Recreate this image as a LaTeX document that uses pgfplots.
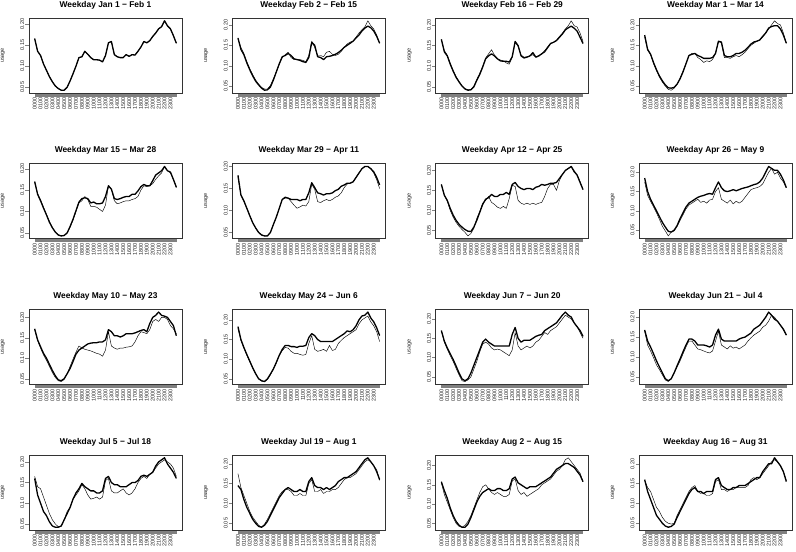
\documentclass[border=0pt]{standalone}
\usepackage{fontspec}
\setmainfont{Liberation Sans}
\usepackage{pgfplots}
\pgfplotsset{compat=1.18}

\newcommand\fs{\fontsize{5.5}{6}\selectfont}
\pgfplotsset{every axis title/.style={at={(0.5,1)}, anchor=center, yshift=13pt, font=\bfseries\fontsize{8.4}{9.6}\selectfont}}
\pgfplotsset{panel/.style={
  scale only axis, width=153pt, height=75pt, anchor=north west,
  enlarge x limits=0.04, enlarge y limits=0.04,
  axis line style={black!80, line width=0.5pt},
  tick align=outside, xtick pos=lower, ytick pos=left,
  xtick={0,60,...,1380},
  xticklabels={0000,0100,0200,0300,0400,0500,0600,0700,0800,0900,1000,1100,1200,1300,1400,1500,1600,1700,1800,1900,2000,2100,2200,2300},
  minor xtick={0,5,...,1435},
  major tick length=3.5pt, minor tick length=3.5pt,
  tick style={black!50, line width=0.22pt},
  x tick label style={rotate=90, anchor=east, font=\fs, inner sep=1pt, text=black!85},
  ytick={0.05,0.10,0.15,0.20}, scaled y ticks=false,
  yticklabel style={rotate=90, anchor=south, font=\fs, inner sep=1pt, text=black!85,
    /pgf/number format/fixed, /pgf/number format/fixed zerofill, /pgf/number format/precision=2},
  /pgf/number format/assume math mode=true,
  ylabel={usage}, ylabel style={at={(axis description cs:-0.17,0.5)}, anchor=center, font=\fs, text=black!85},
}}

\newcommand\panel[5]{%
\begin{axis}[panel, at={(#1pt,#2pt)}, title={#3}]
\addplot[black, line width=0.45pt, line join=round] table[row sep=\\, header=false, x expr=\coordindex*30, y index=0] {#4};
\addplot[black, line width=1.3pt, line join=round] table[row sep=\\, header=false, x expr=\coordindex*30, y index=0] {#5};
\end{axis}}

\begin{document}
\begin{tikzpicture}
\useasboundingbox (0,0) rectangle (796pt,-552pt);

% Row 1
\panel{29}{-18}{Weekday Jan 1 − Feb 1}
{0.165\\0.135\\0.125\\0.105\\0.090\\0.075\\0.063\\0.053\\0.047\\0.043\\0.043\\0.050\\0.065\\0.082\\0.100\\0.120\\0.122\\0.135\\0.128\\0.120\\0.115\\0.115\\0.114\\0.110\\0.125\\0.155\\0.158\\0.127\\0.122\\0.120\\0.120\\0.127\\0.123\\0.127\\0.126\\0.135\\0.145\\0.158\\0.155\\0.160\\0.170\\0.178\\0.188\\0.193\\0.207\\0.195\\0.188\\0.172\\0.154\\}
{0.165\\0.135\\0.125\\0.105\\0.090\\0.075\\0.063\\0.053\\0.047\\0.043\\0.043\\0.050\\0.065\\0.082\\0.100\\0.120\\0.122\\0.135\\0.128\\0.120\\0.115\\0.115\\0.114\\0.110\\0.125\\0.155\\0.158\\0.127\\0.122\\0.120\\0.120\\0.127\\0.123\\0.127\\0.126\\0.135\\0.145\\0.158\\0.155\\0.160\\0.170\\0.178\\0.188\\0.193\\0.207\\0.195\\0.188\\0.172\\0.154\\}

\panel{232.3}{-18}{Weekday Feb 2 − Feb 15}
{0.165\\0.145\\0.130\\0.110\\0.093\\0.078\\0.065\\0.055\\0.047\\0.043\\0.043\\0.052\\0.068\\0.085\\0.103\\0.120\\0.127\\0.133\\0.120\\0.115\\0.115\\0.115\\0.113\\0.110\\0.125\\0.160\\0.145\\0.125\\0.125\\0.122\\0.133\\0.135\\0.128\\0.125\\0.128\\0.135\\0.145\\0.153\\0.158\\0.160\\0.170\\0.180\\0.188\\0.195\\0.210\\0.198\\0.190\\0.175\\0.155\\}
{0.168\\0.140\\0.127\\0.107\\0.090\\0.075\\0.062\\0.053\\0.045\\0.040\\0.041\\0.048\\0.065\\0.085\\0.105\\0.122\\0.125\\0.130\\0.125\\0.117\\0.115\\0.113\\0.110\\0.108\\0.120\\0.157\\0.150\\0.122\\0.120\\0.115\\0.122\\0.123\\0.125\\0.128\\0.132\\0.138\\0.145\\0.150\\0.155\\0.160\\0.168\\0.175\\0.185\\0.192\\0.197\\0.193\\0.185\\0.172\\0.155\\}

\panel{435.7}{-18}{Weekday Feb 16 − Feb 29}
{0.165\\0.138\\0.127\\0.108\\0.090\\0.075\\0.063\\0.053\\0.046\\0.043\\0.044\\0.052\\0.068\\0.083\\0.100\\0.120\\0.130\\0.140\\0.127\\0.118\\0.115\\0.113\\0.108\\0.105\\0.122\\0.158\\0.148\\0.127\\0.122\\0.123\\0.125\\0.128\\0.122\\0.126\\0.130\\0.138\\0.147\\0.155\\0.158\\0.163\\0.172\\0.180\\0.190\\0.198\\0.210\\0.198\\0.195\\0.180\\0.160\\}
{0.165\\0.135\\0.125\\0.105\\0.088\\0.073\\0.062\\0.052\\0.045\\0.042\\0.043\\0.050\\0.066\\0.080\\0.098\\0.118\\0.125\\0.130\\0.125\\0.118\\0.113\\0.112\\0.112\\0.110\\0.123\\0.160\\0.150\\0.125\\0.120\\0.122\\0.125\\0.133\\0.122\\0.125\\0.130\\0.135\\0.145\\0.155\\0.158\\0.162\\0.170\\0.178\\0.188\\0.193\\0.197\\0.192\\0.185\\0.170\\0.155\\}

\panel{639}{-18}{Weekday Mar 1 − Mar 14}
{0.170\\0.138\\0.128\\0.105\\0.088\\0.072\\0.060\\0.050\\0.042\\0.040\\0.045\\0.055\\0.070\\0.087\\0.105\\0.125\\0.130\\0.130\\0.120\\0.115\\0.108\\0.112\\0.110\\0.115\\0.130\\0.160\\0.155\\0.120\\0.120\\0.118\\0.122\\0.125\\0.122\\0.127\\0.133\\0.142\\0.150\\0.155\\0.160\\0.163\\0.170\\0.180\\0.190\\0.200\\0.210\\0.203\\0.200\\0.180\\0.155\\}
{0.175\\0.140\\0.128\\0.108\\0.090\\0.075\\0.063\\0.053\\0.046\\0.045\\0.047\\0.055\\0.068\\0.085\\0.105\\0.125\\0.128\\0.130\\0.125\\0.122\\0.118\\0.118\\0.118\\0.120\\0.130\\0.160\\0.158\\0.125\\0.122\\0.122\\0.125\\0.130\\0.130\\0.133\\0.138\\0.145\\0.153\\0.158\\0.160\\0.163\\0.172\\0.180\\0.192\\0.196\\0.198\\0.198\\0.190\\0.175\\0.155\\}

% Row 2
\panel{29}{-163.7}{Weekday Mar 15 − Mar 28}
{0.168\\0.142\\0.127\\0.110\\0.093\\0.077\\0.063\\0.052\\0.046\\0.043\\0.044\\0.050\\0.063\\0.080\\0.100\\0.120\\0.125\\0.135\\0.128\\0.112\\0.112\\0.110\\0.105\\0.100\\0.115\\0.160\\0.152\\0.125\\0.118\\0.120\\0.123\\0.125\\0.125\\0.128\\0.130\\0.135\\0.150\\0.160\\0.158\\0.160\\0.165\\0.175\\0.183\\0.190\\0.205\\0.195\\0.190\\0.175\\0.155\\}
{0.170\\0.140\\0.125\\0.108\\0.092\\0.075\\0.062\\0.052\\0.045\\0.043\\0.044\\0.050\\0.065\\0.082\\0.102\\0.122\\0.130\\0.132\\0.130\\0.120\\0.122\\0.118\\0.118\\0.120\\0.135\\0.160\\0.152\\0.130\\0.128\\0.130\\0.133\\0.135\\0.135\\0.140\\0.140\\0.148\\0.158\\0.163\\0.160\\0.160\\0.172\\0.185\\0.190\\0.195\\0.205\\0.195\\0.192\\0.175\\0.157\\}

\panel{232.3}{-163.7}{Weekday Mar 29 − Apr 11}
{0.175\\0.135\\0.120\\0.105\\0.088\\0.072\\0.060\\0.050\\0.045\\0.042\\0.043\\0.050\\0.068\\0.085\\0.105\\0.125\\0.128\\0.128\\0.120\\0.112\\0.105\\0.108\\0.112\\0.110\\0.120\\0.160\\0.148\\0.120\\0.118\\0.122\\0.125\\0.122\\0.125\\0.130\\0.133\\0.140\\0.152\\0.160\\0.162\\0.165\\0.175\\0.185\\0.195\\0.200\\0.200\\0.195\\0.185\\0.170\\0.150\\}
{0.180\\0.135\\0.122\\0.105\\0.088\\0.072\\0.060\\0.050\\0.044\\0.042\\0.042\\0.050\\0.068\\0.085\\0.105\\0.125\\0.130\\0.128\\0.125\\0.125\\0.125\\0.122\\0.125\\0.125\\0.140\\0.163\\0.152\\0.140\\0.138\\0.135\\0.138\\0.138\\0.140\\0.145\\0.148\\0.155\\0.158\\0.162\\0.162\\0.165\\0.175\\0.185\\0.195\\0.200\\0.200\\0.195\\0.188\\0.175\\0.158\\}

\panel{435.7}{-163.7}{Weekday Apr 12 − Apr 25}
{0.165\\0.138\\0.123\\0.100\\0.083\\0.070\\0.060\\0.052\\0.045\\0.036\\0.042\\0.055\\0.080\\0.097\\0.118\\0.125\\0.135\\0.120\\0.115\\0.108\\0.105\\0.110\\0.105\\0.130\\0.163\\0.160\\0.125\\0.118\\0.115\\0.118\\0.115\\0.118\\0.115\\0.118\\0.120\\0.135\\0.155\\0.165\\0.165\\0.150\\0.175\\0.190\\0.200\\0.205\\0.210\\0.195\\0.190\\0.172\\0.152\\}
{0.165\\0.138\\0.125\\0.105\\0.088\\0.075\\0.065\\0.058\\0.052\\0.048\\0.047\\0.058\\0.075\\0.095\\0.115\\0.128\\0.132\\0.140\\0.135\\0.135\\0.140\\0.140\\0.145\\0.140\\0.165\\0.170\\0.160\\0.155\\0.152\\0.155\\0.155\\0.152\\0.158\\0.160\\0.165\\0.163\\0.165\\0.168\\0.168\\0.170\\0.180\\0.190\\0.200\\0.205\\0.210\\0.198\\0.188\\0.170\\0.152\\}

\panel{639}{-163.7}{Weekday Apr 26 − May 9}
{0.175\\0.140\\0.125\\0.110\\0.095\\0.078\\0.060\\0.048\\0.035\\0.045\\0.048\\0.060\\0.075\\0.090\\0.105\\0.115\\0.120\\0.125\\0.130\\0.122\\0.125\\0.120\\0.128\\0.130\\0.150\\0.160\\0.130\\0.125\\0.120\\0.128\\0.118\\0.125\\0.120\\0.125\\0.135\\0.145\\0.155\\0.158\\0.160\\0.163\\0.170\\0.185\\0.200\\0.210\\0.195\\0.200\\0.185\\0.175\\0.160\\}
{0.185\\0.150\\0.130\\0.115\\0.100\\0.085\\0.070\\0.058\\0.047\\0.045\\0.050\\0.062\\0.080\\0.095\\0.110\\0.120\\0.125\\0.130\\0.135\\0.138\\0.140\\0.143\\0.145\\0.143\\0.160\\0.175\\0.160\\0.152\\0.150\\0.152\\0.155\\0.152\\0.155\\0.158\\0.160\\0.162\\0.165\\0.168\\0.170\\0.175\\0.185\\0.200\\0.215\\0.210\\0.205\\0.205\\0.195\\0.180\\0.160\\}

% Row 3
\panel{29}{-309.3}{Weekday May 10 − May 23}
{0.170\\0.143\\0.125\\0.108\\0.095\\0.080\\0.065\\0.053\\0.045\\0.043\\0.048\\0.062\\0.080\\0.098\\0.115\\0.130\\0.125\\0.122\\0.120\\0.118\\0.115\\0.112\\0.110\\0.105\\0.120\\0.165\\0.130\\0.125\\0.122\\0.125\\0.125\\0.127\\0.128\\0.130\\0.140\\0.155\\0.165\\0.163\\0.160\\0.170\\0.190\\0.195\\0.190\\0.200\\0.200\\0.195\\0.180\\0.172\\0.160\\}
{0.172\\0.145\\0.128\\0.112\\0.100\\0.085\\0.070\\0.057\\0.047\\0.045\\0.050\\0.062\\0.075\\0.092\\0.110\\0.120\\0.125\\0.130\\0.135\\0.137\\0.138\\0.138\\0.140\\0.140\\0.145\\0.170\\0.165\\0.155\\0.155\\0.152\\0.155\\0.160\\0.160\\0.160\\0.162\\0.165\\0.168\\0.170\\0.165\\0.185\\0.200\\0.205\\0.213\\0.205\\0.203\\0.200\\0.190\\0.180\\0.155\\}

\panel{232.3}{-309.3}{Weekday May 24 − Jun 6}
{0.178\\0.148\\0.128\\0.110\\0.093\\0.077\\0.062\\0.050\\0.044\\0.043\\0.048\\0.060\\0.075\\0.090\\0.110\\0.122\\0.130\\0.128\\0.120\\0.115\\0.115\\0.112\\0.110\\0.112\\0.140\\0.160\\0.125\\0.120\\0.122\\0.125\\0.120\\0.135\\0.122\\0.125\\0.140\\0.148\\0.155\\0.160\\0.165\\0.170\\0.175\\0.190\\0.200\\0.205\\0.210\\0.195\\0.185\\0.170\\0.145\\}
{0.183\\0.150\\0.130\\0.112\\0.095\\0.078\\0.063\\0.050\\0.045\\0.043\\0.050\\0.062\\0.075\\0.092\\0.110\\0.125\\0.135\\0.135\\0.132\\0.132\\0.130\\0.133\\0.133\\0.135\\0.155\\0.165\\0.160\\0.150\\0.145\\0.145\\0.145\\0.145\\0.145\\0.150\\0.155\\0.160\\0.165\\0.172\\0.170\\0.175\\0.185\\0.200\\0.210\\0.212\\0.220\\0.205\\0.195\\0.180\\0.160\\}

\panel{435.7}{-309.3}{Weekday Jun 7 − Jun 20}
{0.170\\0.140\\0.122\\0.105\\0.090\\0.072\\0.055\\0.040\\0.038\\0.042\\0.050\\0.070\\0.090\\0.115\\0.135\\0.140\\0.135\\0.125\\0.120\\0.122\\0.120\\0.115\\0.110\\0.105\\0.120\\0.165\\0.130\\0.120\\0.125\\0.130\\0.125\\0.130\\0.140\\0.145\\0.155\\0.165\\0.160\\0.170\\0.175\\0.180\\0.190\\0.200\\0.210\\0.205\\0.200\\0.190\\0.180\\0.165\\0.150\\}
{0.170\\0.143\\0.125\\0.110\\0.095\\0.078\\0.060\\0.045\\0.040\\0.045\\0.060\\0.080\\0.100\\0.120\\0.140\\0.148\\0.140\\0.135\\0.130\\0.130\\0.130\\0.130\\0.130\\0.130\\0.160\\0.178\\0.150\\0.140\\0.145\\0.145\\0.145\\0.150\\0.155\\0.158\\0.160\\0.170\\0.175\\0.180\\0.185\\0.190\\0.200\\0.210\\0.218\\0.210\\0.205\\0.190\\0.180\\0.170\\0.155\\}

\panel{639}{-309.3}{Weekday Jun 21 − Jul 4}
{0.165\\0.130\\0.115\\0.098\\0.080\\0.068\\0.055\\0.042\\0.038\\0.045\\0.060\\0.075\\0.090\\0.108\\0.125\\0.140\\0.140\\0.130\\0.120\\0.118\\0.115\\0.112\\0.110\\0.115\\0.140\\0.165\\0.130\\0.125\\0.120\\0.128\\0.122\\0.125\\0.120\\0.125\\0.130\\0.140\\0.148\\0.155\\0.160\\0.165\\0.175\\0.180\\0.190\\0.205\\0.200\\0.190\\0.180\\0.168\\0.155\\}
{0.168\\0.140\\0.125\\0.108\\0.090\\0.075\\0.060\\0.045\\0.040\\0.045\\0.060\\0.078\\0.095\\0.113\\0.130\\0.145\\0.145\\0.140\\0.130\\0.130\\0.130\\0.128\\0.125\\0.130\\0.155\\0.170\\0.145\\0.140\\0.140\\0.140\\0.140\\0.140\\0.145\\0.148\\0.150\\0.155\\0.160\\0.170\\0.175\\0.180\\0.190\\0.200\\0.213\\0.205\\0.195\\0.190\\0.180\\0.170\\0.155\\}

% Row 4
\panel{29}{-455}{Weekday Jul 5 − Jul 18}
{0.165\\0.140\\0.135\\0.115\\0.095\\0.075\\0.060\\0.050\\0.043\\0.045\\0.060\\0.080\\0.090\\0.110\\0.120\\0.130\\0.145\\0.135\\0.120\\0.110\\0.112\\0.115\\0.110\\0.115\\0.155\\0.160\\0.130\\0.125\\0.125\\0.130\\0.135\\0.125\\0.120\\0.125\\0.135\\0.150\\0.160\\0.165\\0.160\\0.170\\0.175\\0.185\\0.195\\0.200\\0.205\\0.200\\0.195\\0.185\\0.165\\}
{0.160\\0.120\\0.100\\0.080\\0.070\\0.055\\0.045\\0.042\\0.042\\0.045\\0.060\\0.075\\0.090\\0.110\\0.125\\0.135\\0.148\\0.140\\0.135\\0.130\\0.130\\0.125\\0.125\\0.130\\0.160\\0.165\\0.150\\0.145\\0.145\\0.140\\0.140\\0.140\\0.145\\0.150\\0.150\\0.155\\0.165\\0.168\\0.165\\0.170\\0.175\\0.190\\0.200\\0.205\\0.210\\0.195\\0.185\\0.175\\0.160\\}

\panel{232.3}{-455}{Weekday Jul 19 − Aug 1}
{0.175\\0.140\\0.120\\0.100\\0.080\\0.065\\0.055\\0.045\\0.040\\0.048\\0.060\\0.075\\0.090\\0.105\\0.120\\0.130\\0.135\\0.135\\0.130\\0.120\\0.120\\0.125\\0.120\\0.120\\0.150\\0.160\\0.130\\0.130\\0.135\\0.125\\0.130\\0.130\\0.135\\0.135\\0.140\\0.150\\0.160\\0.165\\0.165\\0.170\\0.175\\0.185\\0.195\\0.205\\0.210\\0.205\\0.195\\0.185\\0.158\\}
{0.145\\0.135\\0.110\\0.090\\0.075\\0.060\\0.050\\0.042\\0.040\\0.045\\0.055\\0.070\\0.085\\0.100\\0.115\\0.125\\0.135\\0.140\\0.135\\0.130\\0.130\\0.135\\0.130\\0.130\\0.155\\0.165\\0.145\\0.140\\0.140\\0.135\\0.140\\0.135\\0.140\\0.145\\0.155\\0.160\\0.165\\0.165\\0.170\\0.175\\0.180\\0.190\\0.200\\0.210\\0.215\\0.205\\0.195\\0.180\\0.160\\}

\panel{435.7}{-455}{Weekday Aug 2 − Aug 15}
{0.155\\0.125\\0.105\\0.085\\0.065\\0.050\\0.042\\0.040\\0.045\\0.055\\0.070\\0.090\\0.110\\0.130\\0.145\\0.150\\0.140\\0.130\\0.125\\0.130\\0.125\\0.120\\0.120\\0.125\\0.160\\0.165\\0.135\\0.125\\0.130\\0.120\\0.125\\0.130\\0.135\\0.140\\0.150\\0.155\\0.160\\0.165\\0.175\\0.185\\0.190\\0.200\\0.215\\0.220\\0.210\\0.200\\0.190\\0.180\\0.158\\}
{0.158\\0.135\\0.115\\0.090\\0.070\\0.055\\0.045\\0.040\\0.040\\0.048\\0.065\\0.085\\0.105\\0.120\\0.130\\0.135\\0.140\\0.135\\0.135\\0.140\\0.140\\0.135\\0.135\\0.140\\0.165\\0.170\\0.155\\0.150\\0.145\\0.140\\0.145\\0.145\\0.145\\0.150\\0.155\\0.160\\0.165\\0.170\\0.180\\0.190\\0.195\\0.200\\0.205\\0.205\\0.200\\0.195\\0.185\\0.175\\0.158\\}

\panel{639}{-455}{Weekday Aug 16 − Aug 31}
{0.158\\0.140\\0.130\\0.110\\0.090\\0.080\\0.065\\0.055\\0.050\\0.048\\0.050\\0.070\\0.085\\0.100\\0.115\\0.130\\0.140\\0.145\\0.130\\0.125\\0.125\\0.120\\0.120\\0.125\\0.155\\0.160\\0.135\\0.135\\0.130\\0.135\\0.135\\0.140\\0.140\\0.140\\0.140\\0.145\\0.160\\0.165\\0.160\\0.165\\0.175\\0.185\\0.195\\0.205\\0.210\\0.205\\0.195\\0.180\\0.158\\}
{0.160\\0.130\\0.110\\0.090\\0.070\\0.060\\0.050\\0.043\\0.040\\0.042\\0.048\\0.065\\0.080\\0.095\\0.110\\0.125\\0.135\\0.140\\0.130\\0.130\\0.125\\0.130\\0.130\\0.130\\0.160\\0.165\\0.145\\0.140\\0.135\\0.135\\0.140\\0.140\\0.145\\0.145\\0.145\\0.150\\0.155\\0.160\\0.165\\0.165\\0.180\\0.190\\0.200\\0.200\\0.215\\0.205\\0.195\\0.180\\0.155\\}

\end{tikzpicture}
\end{document}
